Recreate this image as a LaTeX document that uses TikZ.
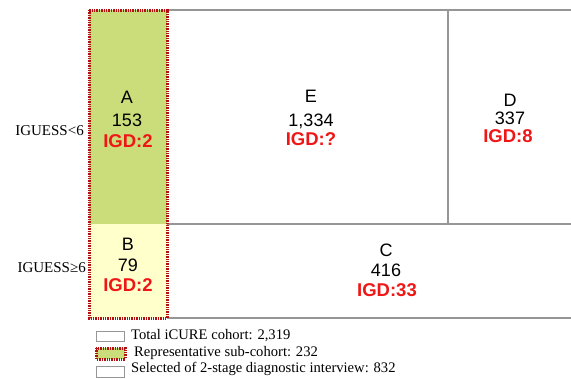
\documentclass[tikz,border=0pt]{standalone}
\usepackage{fontspec}
\setmainfont{Liberation Serif}
\newfontfamily\arialf{Liberation Sans}
\definecolor{subgreen}{RGB}{203,221,122}
\definecolor{subyellow}{RGB}{255,255,204}
\definecolor{dotred}{RGB}{180,15,15}
\definecolor{igdred}{RGB}{238,22,22}
\definecolor{gridgray}{RGB}{150,150,150}
\begin{document}
\begin{tikzpicture}[x=1pt,y=-1pt,
  gridline/.style={draw=gridgray,line width=1.2pt},
  subborder/.style={draw=dotred,line width=3pt,dash pattern=on 1.4pt off 1pt},
  lbl/.style={font=\arialf\fontsize{18}{18}\selectfont,inner sep=0pt},
  igd/.style={font=\arialf\bfseries\fontsize{18.5}{18.5}\selectfont,text=igdred,inner sep=0pt},
  side/.style={font=\fontsize{15}{15}\selectfont,inner sep=0pt},
  legtext/.style={font=\fontsize{14.6}{14.6}\selectfont,anchor=west,inner sep=0pt},
  legbox/.style={draw=gridgray,line width=0.8pt,fill=white}]
\useasboundingbox (0,0) rectangle (571,378);
% cells
\fill[subgreen] (89,10) rectangle (167,224);
\fill[subyellow] (89,224) rectangle (167,318);
\draw[gridline] (167,10) -- (571,10);
\draw[gridline] (448,10) -- (448,224);
\draw[gridline] (167,224) -- (571,224);
\draw[gridline] (167,318) -- (571,318);
\draw[subborder] (89,10) rectangle (167,318);
% texts
\node[lbl] (Al) at (127,97) {A};
\node[lbl] (An) at (127,120) {153};
\node[igd] (Ai) at (128,141) {IGD:2};
\node[lbl] (Bl) at (128,244) {B};
\node[lbl] (Bn) at (128,265) {79};
\node[igd] (Bi) at (128,285) {IGD:2};
\node[lbl] (El) at (311,96) {E};
\node[lbl] (En) at (311,121) {1,334};
\node[igd] (Ei) at (311,139) {IGD:?};
\node[lbl] (Dl) at (510,100) {D};
\node[lbl] (Dn) at (510,118) {337};
\node[igd] (Di) at (508,136) {IGD:8};
\node[lbl] (Cl) at (386,250) {C};
\node[lbl] (Cn) at (386,270) {416};
\node[igd] (Ci) at (387,290) {IGD:33};
\node[side,anchor=east] (r1) at (84,131) {IGUESS<6};
\node[side,anchor=east] (r2) at (86,268) {IGUESS≥6};
% legend
\draw[legbox] (96,331) rectangle (124,341);
\fill[subgreen] (96,348) rectangle (125,359);
\draw[subborder] (96,348) rectangle (125,359);
\draw[legbox] (96,366) rectangle (124,377);
\node[legtext] (t1) at (131,336) {Total iCURE cohort: 2,319};
\node[legtext] (t2) at (134,353) {Representative sub-cohort: 232};
\node[legtext] (t3) at (131,369) {Selected of 2-stage diagnostic interview: 832};
\end{tikzpicture}
\end{document}
